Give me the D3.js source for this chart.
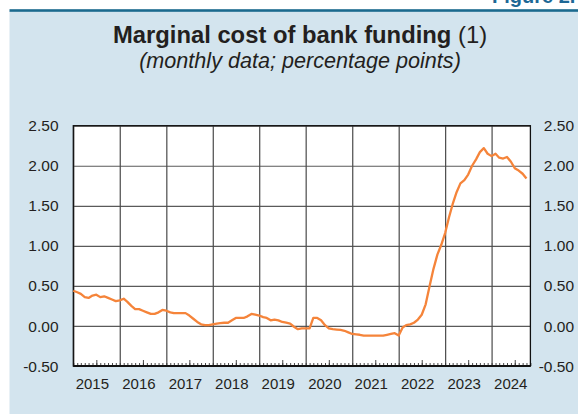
<html>
<head>
  <script src="https://unpkg.com/d3@7/dist/d3.min.js"></script>
  <style>
    body { margin: 0; background: #fff; }
    text { font-family: "Liberation Sans", Arial, Helvetica, sans-serif; fill: #231f20; }
  </style>
</head>
<body>
  <svg id="container" width="578" height="414"></svg>
<script>
    // monthly values, Jan 2015 .. Oct 2024
    const firstMonth = '2015-01';
    const funding = [
      0.44, 0.42, 0.40, 0.36, 0.35, 0.38, 0.39, 0.36, 0.37, 0.35, 0.33, 0.31,
      0.32, 0.34, 0.30, 0.25, 0.21, 0.21, 0.19, 0.17, 0.15, 0.15, 0.17, 0.20,
      0.19, 0.17, 0.16, 0.16, 0.16, 0.16, 0.13, 0.09, 0.05, 0.02, 0.01, 0.01,
      0.02, 0.03, 0.035, 0.04, 0.04, 0.07, 0.10, 0.10, 0.10, 0.12, 0.15, 0.14,
      0.13, 0.11, 0.10, 0.07, 0.08, 0.07, 0.05, 0.04, 0.03, -0.01, -0.04, -0.03,
      -0.03, -0.03, 0.10, 0.10, 0.07, 0.01, -0.03, -0.04, -0.045, -0.05, -0.06, -0.08,
      -0.10, -0.105, -0.11, -0.12, -0.12, -0.12, -0.12, -0.12, -0.12, -0.11, -0.10, -0.09,
      -0.12, -0.02, 0.01, 0.02, 0.04, 0.08, 0.14, 0.27, 0.50, 0.71, 0.89, 1.01,
      1.16, 1.36, 1.52, 1.67, 1.78, 1.82, 1.89, 2.00, 2.08, 2.17, 2.22, 2.15,
      2.12, 2.15, 2.10, 2.09, 2.11, 2.05, 1.97, 1.94, 1.90, 1.84
    ];
    const years = ['2015', '2016', '2017', '2018', '2019', '2020', '2021', '2022', '2023', '2024'];
    const yTicks = [-0.5, 0, 0.5, 1, 1.5, 2, 2.5];

    const svg = d3.select('#container');

    const plotLeft = 73.3, plotRight = 530.4, plotTop = 125.7, plotBottom = 366;
    const width = plotRight - plotLeft;
    const height = plotBottom - plotTop;

    const start = d3.timeParse('%Y-%m')(firstMonth);
    const series = funding.map((v, i) => ({date: d3.timeMonth.offset(start, i), value: v}));

    // header (figure number is cut off at the top edge, as in the original)
    svg.append('text')
      .attr('x', 492).attr('y', 3)
      .style('font-size', '20px').style('font-weight', 'bold').style('fill', '#1d6896')
      .text('Figure 2.');
    svg.append('rect')
      .attr('x', 9.5).attr('y', 11).attr('width', 580).attr('height', 420)
      .attr('fill', '#d3e4ee');
    svg.append('rect')
      .attr('x', 9.5).attr('y', 9.2).attr('width', 580).attr('height', 2.6)
      .attr('fill', '#1b6a8e');

    const title = svg.append('text')
      .attr('x', 300).attr('y', 42.7)
      .attr('text-anchor', 'middle')
      .style('font-size', '23.8px');
    title.append('tspan').style('font-weight', 'bold').text('Marginal cost of bank funding');
    title.append('tspan').text(' (1)');

    svg.append('text')
      .attr('x', 300).attr('y', 68.3)
      .attr('text-anchor', 'middle')
      .style('font-size', '21.6px').style('font-style', 'italic')
      .text('(monthly data; percentage points)');

    const xScale = d3.scaleTime()
      .domain([start, d3.timeMonth.offset(start, funding.length)])
      .range([plotLeft, plotRight]);

    const yScale = d3.scaleLinear()
      .domain([yTicks[0], yTicks[yTicks.length - 1]])
      .range([plotBottom, plotTop]);

    const chart = svg.append('g');

    chart.append('rect')
      .attr('x', plotLeft).attr('y', plotTop).attr('width', width).attr('height', height)
      .attr('fill', '#fff');

    // horizontal grid
    chart.append('g')
      .attr('transform', `translate(${plotLeft}, 0)`)
      .call(d3.axisLeft(yScale).tickValues(yTicks).tickSize(-width).tickFormat(''))
      .call(g => g.select('.domain').remove())
      .call(g => g.selectAll('line').attr('stroke', '#5a5a5a').attr('stroke-width', 1.2));

    // vertical grid at year starts
    chart.append('g')
      .attr('transform', `translate(0, ${plotBottom})`)
      .call(d3.axisBottom(xScale).ticks(d3.timeYear.every(1)).tickSize(-height).tickFormat(''))
      .call(g => g.select('.domain').remove())
      .call(g => g.selectAll('line').attr('stroke', '#4a4a4a').attr('stroke-width', 1.2));

    // monthly minor ticks, taller mid-year ticks
    chart.append('g')
      .attr('transform', `translate(0, ${plotBottom})`)
      .call(d3.axisBottom(xScale).ticks(d3.timeMonth.every(1)).tickSize(-3).tickFormat(''))
      .call(g => g.select('.domain').remove())
      .call(g => g.selectAll('line').attr('stroke', '#333').attr('stroke-width', 0.9));
    chart.append('g')
      .attr('transform', `translate(0, ${plotBottom})`)
      .call(d3.axisBottom(xScale).ticks(d3.timeMonth.filter(d => d.getMonth() === 6)).tickSize(-6).tickFormat(''))
      .call(g => g.select('.domain').remove())
      .call(g => g.selectAll('line').attr('stroke', '#333').attr('stroke-width', 0.9));

    // frame
    chart.append('rect')
      .attr('x', plotLeft).attr('y', plotTop).attr('width', width).attr('height', height)
      .attr('fill', 'none').attr('stroke', '#111').attr('stroke-width', 1.3);
    chart.append('line')
      .attr('x1', plotLeft).attr('x2', plotRight).attr('y1', plotBottom).attr('y2', plotBottom)
      .attr('stroke', '#111').attr('stroke-width', 2);

    // line
    const line = d3.line()
      .x(d => xScale(d.date))
      .y(d => yScale(d.value));
    chart.append('path')
      .datum(series)
      .attr('fill', 'none')
      .attr('stroke', '#f5843a')
      .attr('stroke-width', 2.3)
      .attr('stroke-linejoin', 'round')
      .attr('d', line);

    // y labels, both sides
    const fmt = d => d.toFixed(2);
    svg.append('g')
      .selectAll('text').data(yTicks).enter().append('text')
      .attr('x', 58.5).attr('y', d => yScale(d)).attr('dy', '0.36em')
      .attr('text-anchor', 'end').style('font-size', '15.5px')
      .text(fmt);
    svg.append('g')
      .selectAll('text').data(yTicks).enter().append('text')
      .attr('x', 574).attr('y', d => yScale(d)).attr('dy', '0.36em')
      .attr('text-anchor', 'end').style('font-size', '15.5px')
      .text(fmt);

    // year labels
    svg.append('g')
      .selectAll('text').data(years).enter().append('text')
      .attr('x', d => xScale(new Date(+d, 6, 1)) - 4)
      .attr('y', 389)
      .attr('text-anchor', 'middle').style('font-size', '15px')
      .text(d => d);
</script>
</body>
</html>
